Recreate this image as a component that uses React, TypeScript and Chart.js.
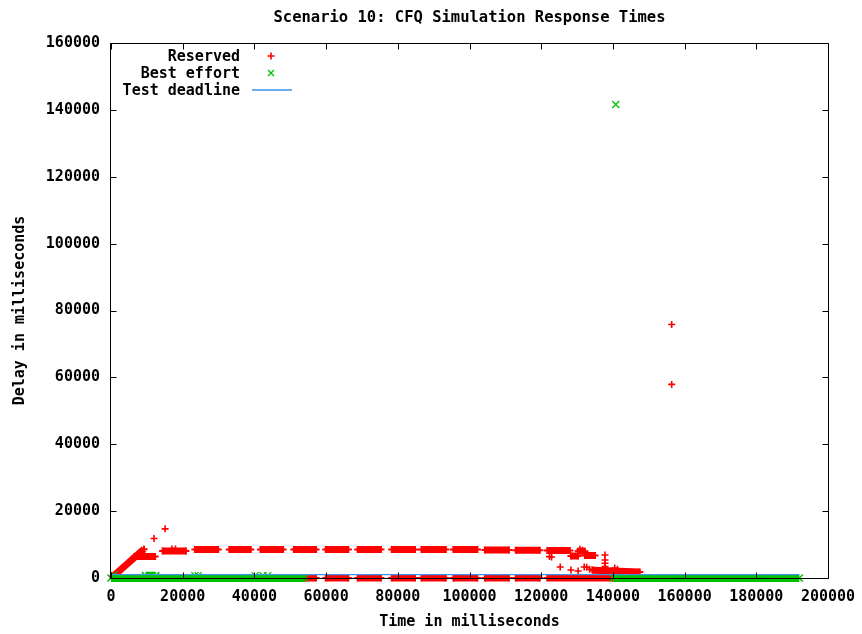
import { useEffect, useRef } from "react";
import { Chart, registerables } from "chart.js";

Chart.register(...registerables);

const FONT_FAMILY = "'DejaVu Sans Mono', 'Liberation Mono', monospace";

const chartTitle = "Scenario 10: CFQ Simulation Response Times";
const xAxisTitle = "Time in milliseconds";
const yAxisTitle = "Delay in milliseconds";
const seriesLabels = ["Reserved", "Best effort", "Test deadline"];

const xTickValues = [0, 20000, 40000, 60000, 80000, 100000, 120000, 140000, 160000, 180000, 200000];
const yTickValues = [0, 20000, 40000, 60000, 80000, 100000, 120000, 140000, 160000];

// Reserved requests: dense stretches of samples, [startMs, startDelay, endMs, endDelay]
const reservedRuns: [number, number, number, number][] = [
  [500, 400, 9200, 8600],
  [6500, 6400, 12300, 6400],
  [14400, 8100, 20900, 8100],
  [23400, 8500, 29900, 8500],
  [33000, 8500, 39000, 8500],
  [41700, 8500, 48000, 8500],
  [51000, 8500, 57200, 8500],
  [59900, 8500, 66200, 8500],
  [68800, 8500, 75300, 8500],
  [78300, 8500, 84800, 8500],
  [86600, 8500, 93400, 8500],
  [95500, 8500, 102200, 8500],
  [104300, 8400, 111000, 8400],
  [112900, 8300, 119600, 8300],
  [121700, 8200, 128000, 8200],
  [128300, 6600, 130300, 6600],
  [130300, 8000, 132200, 8000],
  [132200, 6700, 135000, 6700],
  [134500, 2300, 147500, 1800],
];

// Reserved requests answered almost immediately
const reservedFastRuns: [number, number, number, number][] = [
  [54100, 0, 57200, 0],
  [59900, 0, 66200, 0],
  [68800, 0, 75300, 0],
  [78300, 0, 84800, 0],
  [86600, 0, 93400, 0],
  [95500, 0, 102200, 0],
  [104300, 0, 111000, 0],
  [112900, 0, 119600, 0],
  [121700, 0, 140100, 0],
];

// Isolated reserved samples [ms, delay]
const reservedPoints: [number, number][] = [
  [12000, 11800], [15100, 14700], [17000, 8700], [18000, 8700],
  [122300, 6400], [122900, 6300], [125300, 3300], [128300, 2400], [130300, 2100],
  [130800, 8600], [131500, 8300], [132000, 3300], [132700, 3200], [133500, 2600], [134200, 2500],
  [137800, 6900], [137800, 5400], [137800, 4400], [137800, 3400], [137800, 2900],
  [140500, 3000], [141300, 2600],
  [156400, 75800], [156400, 57900],
];

// Best-effort requests: dense stretches [startMs, startDelay, endMs, endDelay]
const bestEffortRuns: [number, number, number, number][] = [
  [0, 0, 54100, 0],
  [9600, 700, 12500, 700],
  [140100, 0, 192000, 0],
];

// Isolated best-effort samples [ms, delay]
const bestEffortPoints: [number, number][] = [
  [800, 900], [23400, 700], [24300, 700], [40200, 700], [42400, 700], [43700, 700],
  [140800, 141600],
];

// Test deadline line
const deadlineSpanMs = [0, 192000];
const deadlineDelay = 1000;

const RED = "#ff0000";
const GREEN = "#00c000";
const BLUE = "#3a92ea";

const runsToSegments = (runs: [number, number, number, number][]) =>
  runs.flatMap(([t0, d0, t1, d1]) => [
    { x: t0, y: d0 },
    { x: t1, y: d1 },
    { x: t1, y: null as number | null },
  ]);

const pairsToPoints = (pairs: [number, number][]) => pairs.map(([x, y]) => ({ x, y }));

const boldFont = (size: number) => ({ family: FONT_FAMILY, size, weight: "bold" as const, lineHeight: 1.2 });

// Plot frame with inward tick marks on all four sides, drawn over the data
const framePlugin = {
  id: "frameTicks",
  afterDatasetsDraw(chart: any) {
    const { ctx, chartArea, scales } = chart;
    const L = Math.round(chartArea.left) - 0.5;
    const R = Math.round(chartArea.right) + 0.5;
    const T = Math.round(chartArea.top) + 0.5;
    const B = Math.round(chartArea.bottom) + 0.5;
    const len = 6;
    ctx.save();
    ctx.strokeStyle = "#000";
    ctx.lineWidth = 1;
    ctx.beginPath();
    ctx.rect(L, T, R - L, B - T);
    for (const v of xTickValues) {
      const px = Math.round(scales.x.getPixelForValue(v)) + 0.5;
      ctx.moveTo(px, B);
      ctx.lineTo(px, B - len);
      ctx.moveTo(px, T);
      ctx.lineTo(px, T + len);
    }
    for (const v of yTickValues) {
      const py = Math.round(scales.y.getPixelForValue(v)) + 0.5;
      ctx.moveTo(L, py);
      ctx.lineTo(L + len, py);
      ctx.moveTo(R, py);
      ctx.lineTo(R - len, py);
    }
    ctx.stroke();
    ctx.restore();
  },
};

// Key in the upper-left corner of the plot: right-aligned text, sample to its right
const keyPlugin = {
  id: "plotKey",
  afterDraw(chart: any) {
    const { ctx, chartArea } = chart;
    const textRight = chartArea.left + 129;
    const sampleX = chartArea.left + 160;
    const firstRow = chartArea.top + 13;
    const rowGap = 17;
    ctx.save();
    ctx.font = `bold 15px ${FONT_FAMILY}`;
    ctx.fillStyle = "#000";
    ctx.textAlign = "right";
    ctx.textBaseline = "middle";
    seriesLabels.forEach((label, i) => {
      const y = firstRow + i * rowGap;
      ctx.fillText(label, textRight, y + 1);
      ctx.beginPath();
      if (i === 0) {
        ctx.strokeStyle = RED;
        ctx.lineWidth = 1.6;
        ctx.moveTo(sampleX - 3.5, y);
        ctx.lineTo(sampleX + 3.5, y);
        ctx.moveTo(sampleX, y - 3.5);
        ctx.lineTo(sampleX, y + 3.5);
      } else if (i === 1) {
        ctx.strokeStyle = GREEN;
        ctx.lineWidth = 1.3;
        ctx.moveTo(sampleX - 3, y - 3);
        ctx.lineTo(sampleX + 3, y + 3);
        ctx.moveTo(sampleX - 3, y + 3);
        ctx.lineTo(sampleX + 3, y - 3);
      } else {
        ctx.strokeStyle = BLUE;
        ctx.lineWidth = 1.5;
        ctx.moveTo(sampleX - 19, y);
        ctx.lineTo(sampleX + 21, y);
      }
      ctx.stroke();
    });
    ctx.restore();
  },
};

export default function App() {
  const canvasRef = useRef<HTMLCanvasElement>(null);

  useEffect(() => {
    document.body.style.margin = "0";
    const canvas = canvasRef.current;
    if (!canvas) return;

    const chart = new Chart(canvas, {
      type: "scatter",
      data: {
        datasets: [
          {
            label: seriesLabels[0],
            data: runsToSegments([...reservedRuns, ...reservedFastRuns]) as any,
            showLine: true,
            borderColor: RED,
            backgroundColor: RED,
            borderWidth: 7,
            borderCapStyle: "butt",
            pointStyle: "cross",
            pointRadius: 3.5,
            pointBorderWidth: 2,
            pointBorderColor: RED,
            clip: false as any,
            order: 6,
          },
          {
            label: seriesLabels[0] + " samples",
            data: pairsToPoints(reservedPoints),
            showLine: false,
            pointStyle: "cross",
            pointRadius: 3.5,
            pointBorderWidth: 1.6,
            pointBorderColor: RED,
            backgroundColor: RED,
            clip: false as any,
            order: 5,
          },
          {
            label: seriesLabels[1],
            data: runsToSegments(bestEffortRuns) as any,
            showLine: true,
            borderColor: GREEN,
            backgroundColor: GREEN,
            borderWidth: 8,
            borderCapStyle: "butt",
            pointStyle: "crossRot",
            pointRadius: 5,
            pointBorderWidth: 1.5,
            pointBorderColor: GREEN,
            clip: false as any,
            order: 4,
          },
          {
            label: seriesLabels[1] + " samples",
            data: pairsToPoints(bestEffortPoints),
            showLine: false,
            pointStyle: "crossRot",
            pointRadius: 5,
            pointBorderWidth: 1.3,
            pointBorderColor: GREEN,
            backgroundColor: GREEN,
            clip: false as any,
            order: 3,
          },
          {
            label: seriesLabels[2],
            data: deadlineSpanMs.map((x) => ({ x, y: deadlineDelay })),
            showLine: true,
            borderColor: BLUE,
            backgroundColor: BLUE,
            borderWidth: 1.2,
            pointRadius: 0,
            clip: false as any,
            order: 1,
          },
        ],
      },
      options: {
        responsive: false,
        animation: false,
        devicePixelRatio: 1,
        layout: { padding: { left: 0, right: 34, top: 0, bottom: 0 } },
        plugins: {
          legend: { display: false },
          tooltip: { enabled: false },
          title: {
            display: true,
            fullSize: false,
            text: chartTitle,
            color: "#000",
            font: { family: FONT_FAMILY, size: 15.5, weight: "bold", lineHeight: 1.2 },
            padding: { top: 8.7, bottom: 15.7 },
          },
        },
        scales: {
          x: {
            type: "linear",
            min: 0,
            max: 200000,
            afterBuildTicks: (scale: any) => {
              scale.ticks = xTickValues.map((value) => ({ value }));
            },
            afterFit: (scale: any) => {
              scale.height = 56;
              scale.paddingLeft = 0;
              scale.paddingRight = 0;
            },
            grid: { display: false, drawTicks: false },
            border: { display: false },
            ticks: {
              color: "#000",
              font: boldFont(15),
              padding: 10,
              maxRotation: 0,
              autoSkip: false,
              callback: (v: any) => String(v),
            },
            title: {
              display: true,
              text: xAxisTitle,
              color: "#000",
              font: boldFont(15),
              padding: { top: 0, bottom: 3 },
            },
          },
          y: {
            type: "linear",
            min: 0,
            max: 160000,
            afterBuildTicks: (scale: any) => {
              scale.ticks = yTickValues.map((value) => ({ value }));
            },
            afterFit: (scale: any) => {
              scale.width = 111;
            },
            grid: { display: false, drawTicks: false },
            border: { display: false },
            ticks: {
              color: "#000",
              font: boldFont(15),
              padding: 11,
              autoSkip: false,
              callback: (v: any) => String(v),
            },
            title: {
              display: true,
              text: yAxisTitle,
              color: "#000",
              font: boldFont(15),
              padding: { top: 11, bottom: 0 },
            },
          },
        },
      },
      plugins: [framePlugin, keyPlugin],
    });

    return () => chart.destroy();
  }, []);

  return (
    <div style={{ width: 862, height: 634 }}>
      <canvas ref={canvasRef} width={862} height={634} style={{ display: "block" }} />
    </div>
  );
}
